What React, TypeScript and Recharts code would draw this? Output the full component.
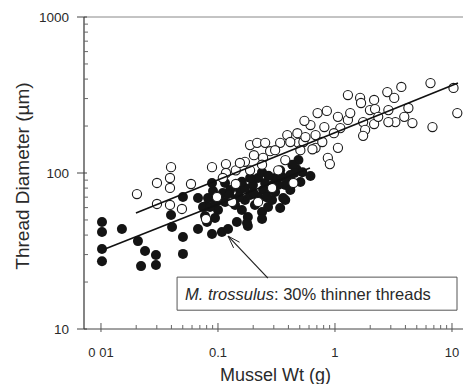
import React from 'react';
import { ScatterChart, Scatter, XAxis, YAxis, ReferenceLine, ReferenceArea } from 'recharts';

// M. trossulus (filled) — mussel weight (g) and thread diameter (µm)
const filledWeights = [
  0.0102, 0.0102, 0.0102, 0.0102, 0.0151, 0.0207, 0.0238, 0.0295, 0.0295, 0.022,
  0.0405, 0.0502, 0.0502, 0.0397, 0.0502, 0.0675, 0.079, 0.0675, 0.0889, 0.108,
  0.0745, 0.0775, 0.0907, 0.11, 0.115, 0.1, 0.0943, 0.132, 0.154, 0.17,
  0.16, 0.18, 0.18, 0.199, 0.22, 0.243, 0.22, 0.238, 0.268, 0.29,
  0.308, 0.34, 0.376, 0.415, 0.468, 0.487, 0.527, 0.376, 0.34, 0.617,
  0.145, 0.122, 0.177, 0.415, 0.361, 0.0889, 0.115, 0.127, 0.104, 0.0822,
  0.188, 0.14, 0.207, 0.279, 0.308, 0.432, 0.399, 0.327, 0.253, 0.17,
  0.0806, 0.188, 0.506, 0.238, 0.238, 0.0855,
  0.095, 0.125, 0.15, 0.2, 0.26, 0.16, 0.3, 0.35, 0.27, 0.45,
];
const filledDiameters = [
  48.5, 41.9, 32.6, 27.2, 43.7, 36.6, 31.6, 29.8, 25.7, 25.3,
  45.1, 38.9, 30.3, 53.8, 70.2, 69.1, 61.4, 43.7, 40.6, 41.9,
  60.5, 53.0, 76.7, 74.4, 65.2, 57.9, 51.5, 68.1, 77.8, 67.1,
  57.9, 52.2, 45.7, 83.8, 92.9, 77.8, 70.2, 56.2, 60.5, 67.1,
  92.9, 104, 83.8, 97.1, 106, 121, 101, 67.1, 59.7, 95.7,
  48.5, 43.7, 47.8, 77.8, 69.1, 86.3, 86.3, 77.8, 67.1, 69.1,
  72.3, 62.4, 62.4, 77.8, 75.5, 113, 92.9, 83.8, 86.3, 80.2,
  48.5, 92.9, 87.6, 101, 50.7, 60.5,
  65, 72, 70, 75, 70, 88, 85, 95, 96, 100,
];

// M. edulis (open)
const openWeights = [
  0.0203, 0.0301, 0.0301, 0.0397, 0.0389, 0.0389, 0.0588, 0.0389, 0.0492, 0.079,
  0.0889, 0.117, 0.117, 0.142, 0.142, 0.188, 0.216, 0.253, 0.279, 0.243,
  0.203, 0.17, 0.391, 0.477, 0.487, 0.617, 0.682, 0.537, 0.11, 0.0981,
  0.132, 0.22, 0.29, 0.441, 0.548, 0.71, 0.852, 1.06, 1.29, 1.29,
  1.64, 1.67, 2.16, 1.99, 1.74, 1.81, 1.74, 1.11, 0.979, 0.811,
  0.682, 0.559, 0.415, 0.642, 0.779, 1.06, 0.869, 0.904, 2.8, 3.21,
  3.69, 6.55, 10.3, 11.1, 6.81, 4.59, 3.91, 3.28, 2.86, 2.86,
  2.2, 2.16, 4.24, 2.34, 1.35, 0.34, 0.308, 0.154, 0.188, 0.238,
  0.376, 0.327, 0.506,
];
const openDiameters = [
  73.3, 86.3, 63.3, 109, 92.9, 80.2, 85.0, 62.4, 58.8, 50.7,
  109, 114, 100, 104, 85.0, 151, 156, 156, 138, 125,
  130, 118, 175, 180, 156, 203, 145, 158, 92.9, 70.2,
  65.2, 65.2, 80.2, 86.3, 216, 242, 250, 229, 219, 316,
  303, 281, 294, 253, 212, 189, 173, 194, 180, 197,
  175, 170, 158, 142, 158, 145, 125, 114, 330, 303,
  356, 377, 351, 242, 197, 209, 229, 212, 212, 253,
  257, 206, 261, 229, 242, 156, 140, 116, 104, 113,
  121, 104, 140,
];

// Regression line end points
const filledFitWeights = [0.0108, 0.611];
const filledFitDiameters = [32.6, 107.8];
const openFitWeights = [0.0199, 11.25];
const openFitDiameters = [55.5, 377];

// Axis ticks
const xMajorTicks = [0.01, 0.1, 1, 10];
const xTickLabels = ['0 01', '0.1', '1', '10'];
const xMinorTicks = [0.02, 0.03, 0.04, 0.05, 0.06, 0.07, 0.08, 0.09, 0.2, 0.3, 0.4, 0.5, 0.6, 0.7, 0.8, 0.9, 2, 3, 4, 5, 6, 7, 8, 9];
const yMajorTicks = [10, 100, 1000];
const yTickLabels = ['10', '100', '1000'];
const yMinorTicks = [20, 30, 40, 50, 60, 70, 80, 90, 200, 300, 400, 500, 600, 700, 800, 900];

const xDomain = [0.00716, 12.42];
const yDomain = [10, 1000];

const annotationText = 'M. trossulus';
const annotationRest = ': 30% thinner threads';
const boxX = [0.0447, 11.04];
const boxY = [13.2, 21.5];
const arrowFrom = { x: 0.267, y: 21.2 };
const arrowTo = { x: 0.122, y: 39.4 };

const zip = (xs: number[], ys: number[]) => xs.map((x, i) => ({ x, y: ys[i] }));
const filledData = zip(filledWeights, filledDiameters);
const openData = zip(openWeights, openDiameters);
const filledFit = zip(filledFitWeights, filledFitDiameters);
const openFit = zip(openFitWeights, openFitDiameters);

const FONT = '"Liberation Sans", Arial, Helvetica, sans-serif';
const TEXT = '#2a2a2a';

const XTick = (props: any) => {
  const { x, y, payload } = props;
  const idx = xMajorTicks.indexOf(payload.value);
  if (idx >= 0) {
    return (
      <g>
        <line x1={x} x2={x} y1={y - 6} y2={y + 3} stroke="#555" strokeWidth={1} />
        <text x={x} y={y + 28} textAnchor="middle" fontSize={13} fill={TEXT} fontFamily={FONT}>
          {xTickLabels[idx]}
        </text>
      </g>
    );
  }
  return <line x1={x} x2={x} y1={y} y2={y - 4} stroke="#666" strokeWidth={1} />;
};

const YTick = (props: any) => {
  const { x, y, payload } = props;
  const idx = yMajorTicks.indexOf(payload.value);
  if (idx >= 0) {
    return (
      <g>
        <line x1={x - 7} x2={x + 3} y1={y} y2={y} stroke="#444" strokeWidth={1} />
        <text x={x - 15} y={y + 4.5} textAnchor="end" fontSize={13.5} fill={TEXT} fontFamily={FONT}>
          {yTickLabels[idx]}
        </text>
      </g>
    );
  }
  return <line x1={x} x2={x + 4} y1={y} y2={y} stroke="#666" strokeWidth={1} />;
};

const OpenDot = (props: any) => (
  <circle cx={props.cx} cy={props.cy} r={4.6} fill="#fff" stroke="#1a1a1a" strokeWidth={1.1} />
);
const FilledDot = (props: any) => (
  <circle cx={props.cx} cy={props.cy} r={5} fill="#141414" stroke="none" />
);
const NoDot = () => <g />;

const Arrow = (props: any) => {
  const { x1, y1, x2, y2 } = props;
  const ang = Math.atan2(y2 - y1, x2 - x1);
  const len = 13;
  const spread = 0.32;
  const ax = x2 - len * Math.cos(ang - spread);
  const ay = y2 - len * Math.sin(ang - spread);
  const bx = x2 - len * Math.cos(ang + spread);
  const by = y2 - len * Math.sin(ang + spread);
  return (
    <g>
      <line x1={x1} y1={y1} x2={x2} y2={y2} stroke="#222" strokeWidth={1.2} />
      <line x1={x2} y1={y2} x2={ax} y2={ay} stroke="#222" strokeWidth={1} />
      <line x1={x2} y1={y2} x2={bx} y2={by} stroke="#222" strokeWidth={1} />
    </g>
  );
};

const BoxLabel = (props: any) => {
  const vb = props.viewBox || {};
  return (
    <text x={vb.x + 8} y={vb.y + vb.height / 2 + 6} fontSize={16.5} fill={TEXT} fontFamily={FONT}>
      <tspan fontStyle="italic">{annotationText}</tspan>
      <tspan>{annotationRest}</tspan>
    </text>
  );
};

const YTitle = (props: any) => {
  const vb = props.viewBox || {};
  const cx = vb.x - 2;
  const cy = vb.y + vb.height / 2 + 3;
  return (
    <text
      x={cx}
      y={cy}
      transform={`rotate(-90, ${cx}, ${cy})`}
      textAnchor="middle"
      dominantBaseline="central"
      fontSize={19}
      fill={TEXT}
      fontFamily={FONT}
    >
      Thread Diameter (µm)
    </text>
  );
};

const XTitle = (props: any) => {
  const vb = props.viewBox || {};
  return (
    <text x={vb.x + vb.width / 2 + 2} y={381} textAnchor="middle" fontSize={18} fill={TEXT} fontFamily={FONT}>
      Mussel Wt (g)
    </text>
  );
};

export default function App() {
  return (
    <div style={{ position: 'absolute', left: 0, top: 0, width: 468, height: 384, background: '#fff' }}>
      <ScatterChart width={468} height={384} margin={{ top: 17, right: 5, bottom: 25, left: 24 }}>
        <XAxis
          type="number"
          dataKey="x"
          scale="log"
          domain={xDomain}
          allowDataOverflow
          ticks={[...xMajorTicks, ...xMinorTicks]}
          interval={0}
          tick={<XTick />}
          tickLine={false}
          tickSize={0}
          tickMargin={0}
          height={30}
          axisLine={{ stroke: '#444', strokeWidth: 1 }}
          label={<XTitle />}
        />
        <YAxis
          type="number"
          dataKey="y"
          scale="log"
          domain={yDomain}
          allowDataOverflow
          ticks={[...yMajorTicks, ...yMinorTicks]}
          interval={0}
          tick={<YTick />}
          tickLine={false}
          tickSize={0}
          tickMargin={0}
          width={60}
          axisLine={{ stroke: '#333', strokeWidth: 1.2 }}
          label={<YTitle />}
        />
        <ReferenceLine y={1000} stroke="#888" strokeWidth={1} />
        <Scatter data={filledData} shape={<FilledDot />} isAnimationActive={false} />
        <Scatter data={openData} shape={<OpenDot />} isAnimationActive={false} />
        <Scatter
          data={filledFit}
          line={{ stroke: '#111', strokeWidth: 1.6 }}
          shape={<NoDot />}
          isAnimationActive={false}
        />
        <Scatter
          data={openFit}
          line={{ stroke: '#111', strokeWidth: 1.6 }}
          shape={<NoDot />}
          isAnimationActive={false}
        />
        <ReferenceArea
          x1={boxX[0]}
          x2={boxX[1]}
          y1={boxY[0]}
          y2={boxY[1]}
          fill="#fff"
          fillOpacity={1}
          stroke="#555"
          strokeWidth={1}
          label={<BoxLabel />}
        />
        <ReferenceLine segment={[arrowFrom, arrowTo]} shape={<Arrow />} />
      </ScatterChart>
    </div>
  );
}
